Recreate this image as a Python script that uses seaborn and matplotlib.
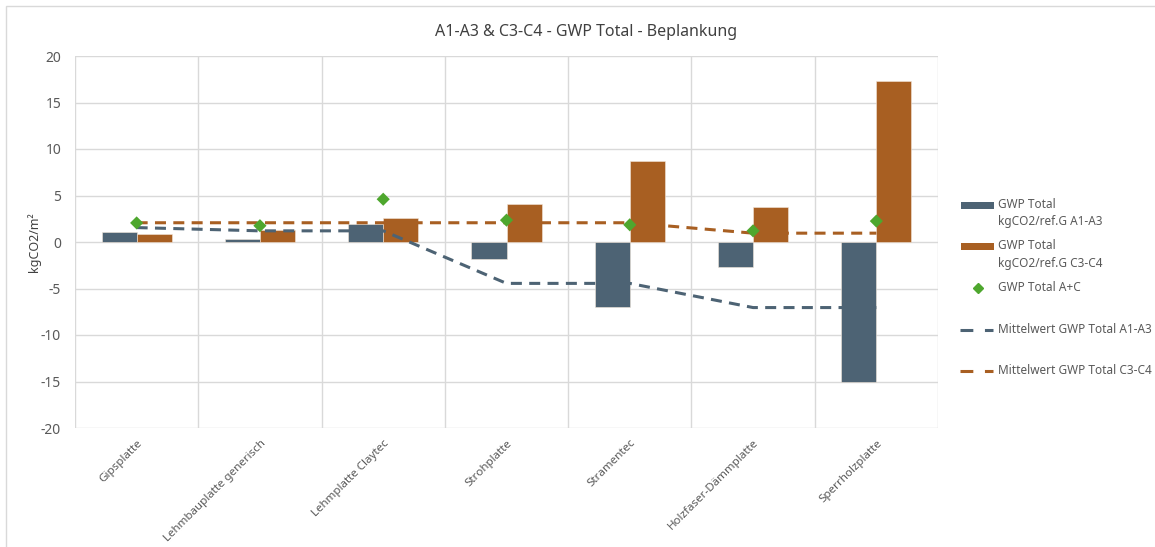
import numpy as np
import pandas as pd
import matplotlib
matplotlib.use("Agg")
import matplotlib.pyplot as plt
import seaborn as sns
from matplotlib.lines import Line2D
from matplotlib.patches import Rectangle

categories = ["Gipsplatte", "Lehmbauplatte generisch", "Lehmplatte Claytec", "Strohplatte",
              "Stramentec", "Holzfaser-Dämmplatte", "Sperrholzplatte"]
gwp_a1a3 = [1.1, 0.35, 1.95, -1.8, -7.0, -2.65, -15.05]
gwp_c3c4 = [0.85, 1.3, 2.55, 4.1, 8.75, 3.8, 17.35]
gwp_total = [2.05, 1.75, 4.6, 2.35, 1.85, 1.2, 2.25]
mean_a1a3 = [1.55, 1.2, 1.2, -4.45, -4.45, -7.05, -7.05]
mean_c3c4 = [2.07, 2.07, 2.07, 2.07, 2.07, 0.95, 0.95]
yticks = [-20, -15, -10, -5, 0, 5, 10, 15, 20]

lab_a = "GWP Total\nkgCO2/ref.G A1-A3"
lab_c = "GWP Total\nkgCO2/ref.G C3-C4"
lab_t = "GWP Total A+C"
lab_ma = "Mittelwert GWP Total A1-A3"
lab_mc = "Mittelwert GWP Total C3-C4"

c_blue = "#4D6374"
c_orange = "#A85F22"
c_green = "#4EA72E"
c_grid = "#D9D9D9"
c_text = "#595959"
dash = (0, (3.6, 2.4))

sns.set_theme(style="white")
plt.rcParams["font.family"] = ["Noto Sans", "DejaVu Sans"]

df = pd.DataFrame({
    "cat": categories * 2,
    "val": gwp_a1a3 + gwp_c3c4,
    "series": [lab_a] * len(categories) + [lab_c] * len(categories),
})

W, H = 1155, 547
fig = plt.figure(figsize=(W / 100, H / 100), dpi=100)
ax = fig.add_axes([75 / W, 1 - 428 / H, (938 - 75) / W, (428 - 56) / H])

sns.barplot(data=df, x="cat", y="val", hue="series", order=categories,
            hue_order=[lab_a, lab_c], palette=[c_blue, c_orange], saturation=1,
            width=0.57, gap=0, dodge=True, ax=ax, legend=False,
            edgecolor="#F2E6DA", linewidth=0.4, zorder=3)

xs = np.arange(len(categories))
ax.plot(xs, mean_a1a3, color=c_blue, lw=2.2, ls=dash, zorder=4)
ax.plot(xs, mean_c3c4, color=c_orange, lw=2.2, ls=dash, zorder=4)
sns.scatterplot(x=xs, y=gwp_total, marker="D", s=45, color=c_green,
                edgecolor="none", ax=ax, zorder=5)

ax.set_xlim(-0.5, len(categories) - 0.5)
ax.set_ylim(-20, 20)
ax.set_yticks(yticks)
ax.set_yticklabels([str(v) for v in yticks])
ax.set_xticks(xs)
ax.set_xticklabels(categories, rotation=45, ha="right", rotation_mode="anchor",
                   fontsize=8.3, color=c_text)
ax.set_xticks(np.arange(-0.5, len(categories), 1), minor=True)
ax.tick_params(axis="y", labelsize=10, colors=c_text, length=0, pad=10)
ax.tick_params(axis="x", which="both", length=0, pad=7)
ax.grid(axis="y", color=c_grid, lw=1.0, zorder=0)
ax.grid(axis="x", which="minor", color=c_grid, lw=1.0, zorder=0)
ax.grid(axis="x", which="major", visible=False)
for s in ax.spines.values():
    s.set_visible(False)
ax.set_xlabel("")
ax.set_ylabel("kgCO2/m²", fontsize=9, color="#404040", labelpad=0)

ax.set_title("A1-A3 & C3-C4 - GWP Total - Beplankung", fontsize=11.5, color="#404040",
             pad=0, x=(586 - 75) / (938 - 75), y=1 + (56 - 28 - 8) / 372)

# legend (manually laid out like the Excel legend)
def fx(px):
    return px / W

def fy(py):
    return 1 - py / H

tr = fig.transFigure
leg_items = [(lab_a, "patch", c_blue, 205), (lab_c, "patch", c_orange, 246),
             (lab_t, "diamond", c_green, 288), (lab_ma, "dash", c_blue, 330),
             (lab_mc, "dash", c_orange, 371)]
for label, kind, col, py in leg_items:
    if kind == "patch":
        fig.add_artist(Rectangle((fx(961), fy(py + 3.5)), fx(994) - fx(961), 7 / H,
                                 transform=tr, facecolor=col, edgecolor="none"))
    elif kind == "diamond":
        fig.add_artist(Line2D([fx(977.5)], [fy(py)], transform=tr, marker="D",
                              markersize=5.5, color=col, ls="none"))
    else:
        fig.add_artist(Line2D([fx(960), fx(993)], [fy(py), fy(py)], transform=tr,
                              color=col, lw=2.2, ls=(0, (4.2, 3.8))))
    fig.text(fx(998), fy(py - 7), label, transform=tr, fontsize=8.5, color=c_text,
             ha="left", va="top", linespacing=1.45)

fig.add_artist(Rectangle((6 / W, -0.05), 1.1, 1 - 6 / H + 0.05, transform=tr,
                         fill=False, edgecolor=c_grid, lw=1.0))

fig.savefig("out.png", dpi=100)
